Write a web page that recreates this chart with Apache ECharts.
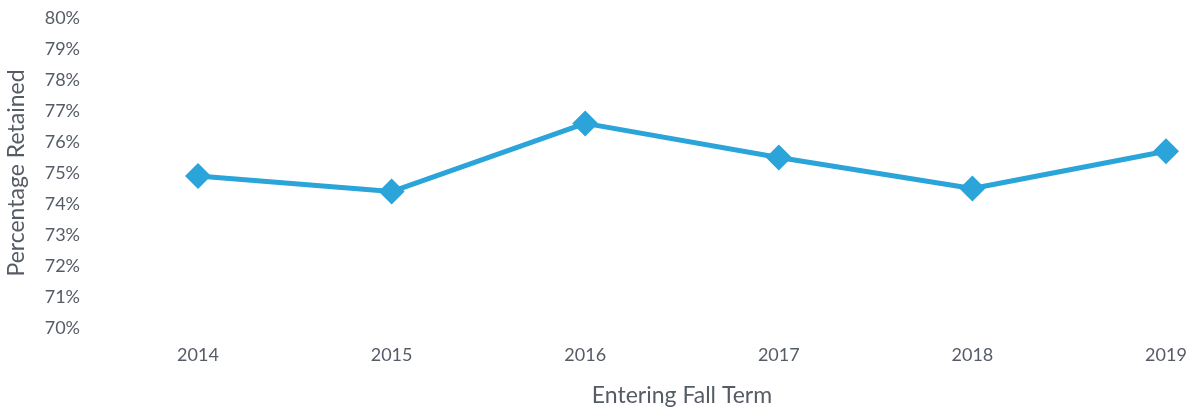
<!DOCTYPE html>
<html>
<head>
<meta charset="utf-8">
<script src="https://cdn.jsdelivr.net/npm/echarts@6/dist/echarts.min.js"></script>
<style>
  html, body { margin: 0; padding: 0; background: #ffffff; }
  #chart { width: 1200px; height: 409px; }
</style>
</head>
<body>
<div id="chart"></div>
<script>
// Fall-to-fall retention by entering cohort
const years = ['2014', '2015', '2016', '2017', '2018', '2019'];
const retained = [74.9, 74.4, 76.6, 75.5, 74.5, 75.7];

const FONT = 'Lato, "Open Sans", sans-serif';
const TEXT = '#565c66';

const chart = echarts.init(document.getElementById('chart'));
chart.setOption({
  backgroundColor: '#ffffff',
  animation: false,
  grid: { left: 198, right: 34, top: 18, bottom: 81, outerBoundsMode: 'none', containLabel: false },
  xAxis: {
    type: 'category',
    data: years,
    boundaryGap: false,
    name: 'Entering Fall Term',
    nameLocation: 'middle',
    nameGap: 56,
    nameTextStyle: { fontFamily: FONT, fontSize: 23, color: TEXT },
    axisLine: { show: false },
    axisTick: { show: false },
    axisLabel: { fontFamily: FONT, fontSize: 18, color: TEXT, margin: 18 },
    splitLine: { show: false }
  },
  yAxis: {
    type: 'value',
    min: 70,
    max: 80,
    interval: 1,
    name: 'Percentage Retained',
    nameLocation: 'middle',
    nameGap: 170,
    nameTextStyle: { fontFamily: FONT, fontSize: 23, color: TEXT },
    axisLine: { show: false },
    axisTick: { show: false },
    splitLine: { show: false },
    axisLabel: {
      fontFamily: FONT, fontSize: 18, color: TEXT, margin: 118,
      formatter: v => v + '%'
    }
  },
  series: [{
    type: 'line',
    data: retained,
    symbol: 'diamond',
    symbolSize: 26,
    lineStyle: { color: '#2aa4d9', width: 5 },
    itemStyle: { color: '#2aa4d9' }
  }]
});
</script>
</body>
</html>
